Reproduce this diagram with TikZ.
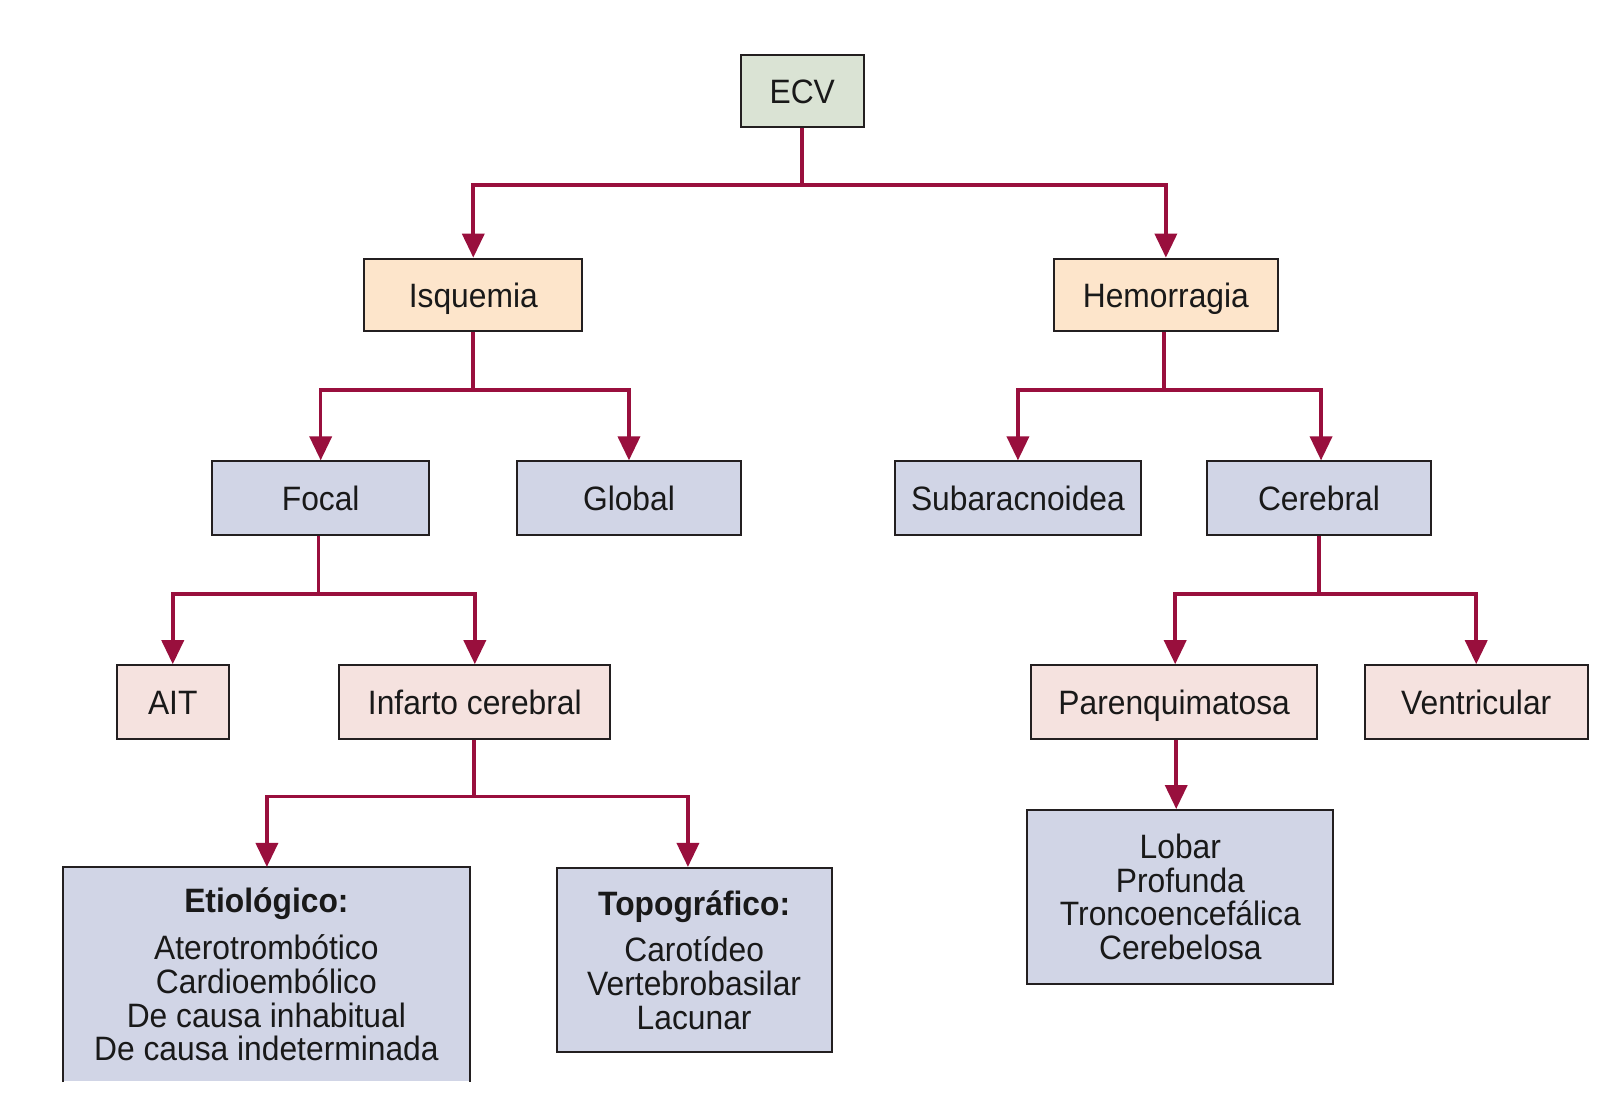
\documentclass[tikz,border=0pt]{standalone}
\usepackage{fontspec}
\setmainfont[FakeStretch=0.94]{Liberation Sans}
\usetikzlibrary{arrows.meta,calc}
\definecolor{cgreen}{HTML}{DAE3D4}
\definecolor{cpeach}{HTML}{FDE5CB}
\definecolor{clav}{HTML}{D1D5E6}
\definecolor{cpink}{HTML}{F5E2DF}
\definecolor{cconn}{HTML}{990F3D}
\definecolor{cborder}{HTML}{231F20}
\def\pxu{0.517}
\tikzset{
  bx/.style={draw=cborder, line width=1pt, inner sep=0pt, text=black!90,
    font=\fontsize{16.9}{17.2}\selectfont, align=center},
  single/.style={text height=12.2pt, text depth=0pt},
  multi/.style={font=\fontsize{16.9}{16.9}\selectfont},
  sz/.style 2 args={minimum width={#1*\pxu pt}, minimum height={#2*\pxu pt}},
  conn/.style={draw=cconn, line width=1.8pt},
  arr/.style={conn, -{Triangle[length=12pt,width=11pt]}},
}
\begin{document}
\begin{tikzpicture}[x=0.517pt,y=-0.517pt]
\useasboundingbox (0,0) rectangle (1566,1067);
\fill[white] (0,0) rectangle (1566,1067);
% level 0
\node[bx,single,fill=cgreen,sz={119}{70}] (ecv) at (775.5,88) {ECV};
% level 1
\node[bx,single,fill=cpeach,sz={211}{70}] (isq) at (457.5,285) {Isquemia};
\node[bx,single,fill=cpeach,sz={216}{70}] (hem) at (1127,285) {Hemorragia};
% level 2
\node[bx,single,fill=clav,sz={210}{71}] (focal) at (310,481.5) {Focal};
\node[bx,single,fill=clav,sz={216}{71}] (global) at (608,481.5) {Global};
\node[bx,single,fill=clav,sz={238}{71}] (sub) at (984,481.5) {Subaracnoidea};
\node[bx,single,fill=clav,sz={216}{71}] (cer) at (1275,481.5) {Cerebral};
% level 3
\node[bx,single,fill=cpink,sz={108}{71}] (ait) at (167,678.5) {AIT};
\node[bx,single,fill=cpink,sz={262}{71}] (inf) at (459,678.5) {Infarto cerebral};
\node[bx,single,fill=cpink,sz={276}{71}] (par) at (1135,678.5) {Parenquimatosa};
\node[bx,single,fill=cpink,sz={216}{71}] (ven) at (1427,678.5) {Ventricular};
% level 4
\node[bx,multi,draw=none,fill=clav,sz={391}{206}] (etio) at (257.5,942)
  {\textbf{Etiológico:}\\[6.5pt] Aterotrombótico\\ Cardioembólico\\ De causa inhabitual\\ De causa indeterminada};
\draw[cborder,line width=1pt] (etio.south west) -- (etio.north west) -- (etio.north east) -- (etio.south east);
\node[bx,multi,fill=clav,sz={266}{178}] (topo) at (671,928)
  {\textbf{Topográfico:}\\[6.5pt] Carotídeo\\ Vertebrobasilar\\ Lacunar};
\node[bx,multi,fill=clav,sz={296}{168}] (lob) at (1141,867)
  {Lobar\\ Profunda\\ Troncoencefálica\\ Cerebelosa};
% connectors
\draw[conn] (ecv.south) -- ++(0,55) coordinate (b1);
\draw[arr] (b1) -| (isq.north);
\draw[arr] (b1) -| (hem.north);
\draw[conn] (isq.south) -- ++(0,56) coordinate (b2);
\draw[arr] (b2) -| (focal.north);
\draw[arr] (b2) -| (global.north);
\draw[conn] ($(hem.south)+(-2,0)$) -- ++(0,56) coordinate (b3);
\draw[arr] (b3) -| (sub.north);
\draw[arr] (b3) -| ($(cer.north)+(2,0)$);
\draw[conn] ($(focal.south)+(-2,0)$) -- ++(0,56) coordinate (b4);
\draw[arr] (b4) -| (ait.north);
\draw[arr] (b4) -| (inf.north);
\draw[conn] (cer.south) -- ++(0,56) coordinate (b5);
\draw[arr] (b5) -| ($(par.north)+(1,0)$);
\draw[arr] (b5) -| (ven.north);
\draw[conn] ($(inf.south)+(-1,0)$) -- ++(0,55) coordinate (b6);
\draw[arr] (b6) -| ($(etio.north)+(0.5,0)$);
\draw[arr] (b6) -| ($(topo.north)+(-6,0)$);
\coordinate (pp) at ($(par.south)+(2,0)$);
\draw[arr] (pp) -- (pp |- lob.north);
\end{tikzpicture}
\end{document}
